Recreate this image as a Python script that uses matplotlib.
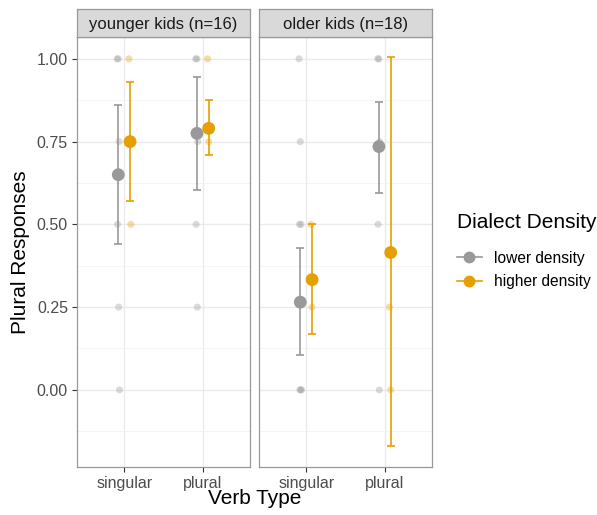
import matplotlib
matplotlib.use('Agg')
import matplotlib.pyplot as plt
from matplotlib.lines import Line2D

plt.rcParams['font.family'] = ['Liberation Sans', 'DejaVu Sans']

# Facets, categories, groups
panels = ["younger kids (n=16)", "older kids (n=18)"]
verbs = ["singular", "plural"]
densities = ["lower density", "higher density"]
colors = {"lower density": "#999999", "higher density": "#E69F00"}

# Means and error bar limits [panel][verb]
means = {
    "lower density":  [[0.65, 0.775], [0.265, 0.735]],
    "higher density": [[0.75, 0.79], [0.333, 0.415]],
}
err_lo = {
    "lower density":  [[0.44, 0.605], [0.105, 0.595]],
    "higher density": [[0.57, 0.71], [0.17, -0.17]],
}
err_hi = {
    "lower density":  [[0.86, 0.945], [0.43, 0.87]],
    "higher density": [[0.93, 0.875], [0.50, 1.005]],
}

# Raw per-child responses (jittered points) [panel][verb]
raw = {
    "lower density": [
        [[1.0, 1.0, 0.75, 0.5, 0.25, 0.0], [1.0, 1.0, 0.75, 0.5, 0.25]],
        [[1.0, 0.75, 0.5, 0.5, 0.0, 0.0, 0.0], [1.0, 1.0, 0.75, 0.5, 0.0]],
    ],
    "higher density": [
        [[1.0, 0.75, 0.5], [1.0, 0.75]],
        [[0.5, 0.25], [0.25, 0.0]],
    ],
}
jitter = [-0.03, 0.0, 0.02, -0.02, 0.01, 0.03, -0.01]

dodge = {"lower density": -0.075, "higher density": 0.075}

fig = plt.figure(figsize=(5.97, 5.15), dpi=100)
W, H = 597, 515
lefts = [77, 259]
pw = 173
top, bot = 37, 467
strip_top = 9

for p, title in enumerate(panels):
    ax = fig.add_axes([lefts[p] / W, 1 - bot / H, pw / W, (bot - top) / H])
    for d in densities:
        c = colors[d]
        for v in range(2):
            x0 = v + 1 + dodge[d]
            vals = raw[d][p][v]
            xs = [x0 + jitter[i % len(jitter)] * 0.5 for i in range(len(vals))]
            ax.scatter(xs, vals, s=26, color=c, alpha=0.35, edgecolors='none', zorder=2)
        xs = [v + 1 + dodge[d] for v in range(2)]
        m = means[d][p]
        lo = [m[v] - err_lo[d][p][v] for v in range(2)]
        hi = [err_hi[d][p][v] - m[v] for v in range(2)]
        ax.errorbar(xs, m, yerr=[lo, hi], fmt='none', ecolor=c, elinewidth=1.2,
                    capsize=3, capthick=1.2, zorder=3)
        ax.scatter(xs, m, s=85, color=c, edgecolors='none', zorder=4)

    ax.set_xlim(0.4, 2.6)
    ax.set_ylim(-0.233, 1.066)
    ax.set_xticks([1, 2])
    ax.set_xticklabels(verbs, fontsize=11.5, color='#4D4D4D')
    ax.set_yticks([0, 0.25, 0.5, 0.75, 1.0])
    ax.set_yticks([-0.125, 0.125, 0.375, 0.625, 0.875], minor=True)
    ax.grid(True, which='major', color='#EBEBEB', linewidth=1.0, zorder=0)
    ax.grid(True, which='minor', axis='y', color='#F2F2F2', linewidth=0.6, zorder=0)
    ax.set_axisbelow(True)
    ax.tick_params(axis='both', which='major', length=3.5, color='#333333', width=0.8, pad=3)
    ax.tick_params(axis='y', which='minor', length=0)
    if p == 0:
        ax.set_yticklabels(["0.00", "0.25", "0.50", "0.75", "1.00"], fontsize=11.5, color='#4D4D4D')
        ax.set_ylabel("Plural Responses", fontsize=15, labelpad=5)
    else:
        ax.tick_params(axis='y', which='major', length=0, labelleft=False)
    for s in ax.spines.values():
        s.set_color('#999999')
        s.set_linewidth(0.9)

    sax = fig.add_axes([lefts[p] / W, 1 - top / H, pw / W, (top - strip_top) / H])
    sax.set_facecolor('#D9D9D9')
    sax.set_xticks([])
    sax.set_yticks([])
    for s in sax.spines.values():
        s.set_color('#999999')
        s.set_linewidth(0.9)
    sax.text(0.5, 0.45, title, ha='center', va='center', fontsize=12, color='#1A1A1A',
             transform=sax.transAxes)

fig.text((77 + 432) / 2 / W, 1 - 498 / H, "Verb Type", ha='center', va='center', fontsize=15)

# legend
fig.text(457 / W, 1 - 222 / H, "Dialect Density", ha='left', va='center', fontsize=15)
handles = [Line2D([0], [0], color=colors[d], marker='o', markersize=7.5, linewidth=1.2)
           for d in densities]
leg = fig.legend(handles, densities, loc='center left', bbox_to_anchor=(443 / W, 1 - 270 / H),
                 frameon=False, fontsize=11.2, handlelength=1.6, labelspacing=0.55)

fig.savefig("out.png", dpi=100)
